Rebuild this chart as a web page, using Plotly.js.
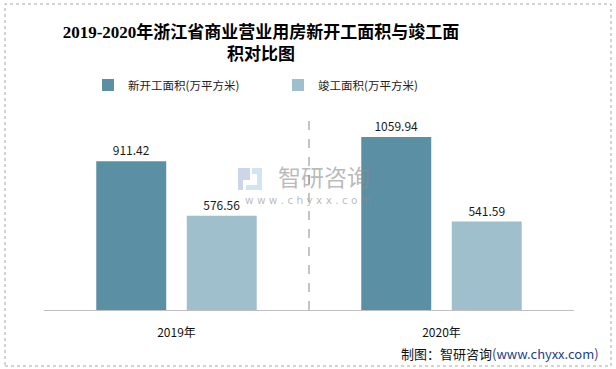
<!DOCTYPE html>
<html><head><meta charset="utf-8">
<script src="https://cdn.plot.ly/plotly-3.0.1.min.js"></script>
<style>html,body{margin:0;padding:0;background:#fff;}#chart{width:616px;height:369px;}</style>
</head><body><div id="chart"></div>
<script>
const categories = ['2019年', '2020年'];
const seriesNames = ['新开工面积(万平方米)', '竣工面积(万平方米)'];
const newStarts = [911.42, 1059.94];
const completed = [576.56, 541.59];
const titleText = '2019-2020年浙江省商业营业用房新开工面积与竣工面<br>积对比图';
const sourceLabel = '制图：智研咨询';
const sourceUrl = '(www.chyxx.com)';

const W = 616, H = 369, L = 44, R = 574, T = 114, B = 310;
const px = x => (x - L) / (R - L);
const py = y => (B - y) / (B - T);
const cjk = '"Noto Sans CJK SC", "Noto Sans", sans-serif';

const traces = [
  {type: 'bar', name: seriesNames[0], x: categories, y: newStarts,
   marker: {color: '#5b8fa3'}, text: newStarts.map(v => v.toFixed(2)),
   textposition: 'outside', cliponaxis: false,
   textfont: {family: cjk, size: 12, color: '#1a1a1a'}, hoverinfo: 'x+y'},
  {type: 'bar', name: seriesNames[1], x: categories, y: completed,
   marker: {color: '#a0bfcc'}, text: completed.map(v => v.toFixed(2)),
   textposition: 'outside', cliponaxis: false,
   textfont: {family: cjk, size: 12, color: '#1a1a1a'}, hoverinfo: 'x+y'}
];

const shapes = [
  {type: 'rect', xref: 'paper', yref: 'paper', x0: px(5), x1: px(611), y0: py(366), y1: py(4),
   line: {color: '#a8a8a8', width: 1, dash: 'dot'}},
  {type: 'line', xref: 'x', yref: 'paper', x0: 0.5, x1: 0.5, y0: 0, y1: py(116),
   line: {color: '#c4c4c4', width: 2, dash: 'dash'}},
  {type: 'path', xref: 'paper', yref: 'paper', layer: 'above',
   path: `M ${px(238)} ${py(168)} L ${px(250)} ${py(168)} L ${px(250)} ${py(180)} L ${px(243)} ${py(180)} L ${px(243)} ${py(190)} L ${px(238)} ${py(190)} Z`,
   fillcolor: 'rgba(160,180,215,0.55)', line: {width: 0}},
  {type: 'path', xref: 'paper', yref: 'paper', layer: 'above',
   path: `M ${px(252)} ${py(168)} L ${px(262)} ${py(168)} L ${px(262)} ${py(190)} L ${px(246)} ${py(190)} L ${px(246)} ${py(185)} L ${px(257)} ${py(185)} L ${px(257)} ${py(174)} L ${px(252)} ${py(174)} Z`,
   fillcolor: 'rgba(170,205,230,0.55)', line: {width: 0}}
];

const annotations = [
  {text: '智研咨询', xref: 'paper', yref: 'paper', x: px(324), y: py(176), xanchor: 'center', yanchor: 'middle',
   showarrow: false, font: {family: cjk, size: 23, color: 'rgba(140,140,140,0.6)'}},
  {text: 'w w w . c h y x x . c o m', xref: 'paper', yref: 'paper', x: px(308), y: py(200), xanchor: 'center', yanchor: 'middle',
   showarrow: false, font: {family: '"DejaVu Sans", sans-serif', size: 10.5, color: 'rgba(140,140,140,0.6)'}},
  {text: sourceLabel + '<span style="color:#23408e">' + sourceUrl + '</span>', xref: 'paper', yref: 'paper',
   x: px(601), y: py(353), xanchor: 'right', yanchor: 'middle', showarrow: false,
   font: {family: cjk, size: 13, color: '#111'}}
];

const layout = {
  width: W, height: H,
  margin: {l: L, r: W - R, t: T, b: H - B, pad: 0},
  paper_bgcolor: '#fff', plot_bgcolor: '#fff',
  title: {text: titleText, x: 261 / W, xref: 'container', xanchor: 'center',
          y: 1 - 38 / H, yref: 'container', yanchor: 'top',
          font: {family: '"Liberation Serif", "Noto Sans CJK SC", serif', size: 17, color: '#000', weight: 'bold'}},
  barmode: 'group', bargap: 0.317, bargroupgap: 0.227,
  showlegend: true,
  legend: {orientation: 'h', x: px(88), xanchor: 'left', y: py(85), yanchor: 'middle',
           font: {family: cjk, size: 11.5, color: '#222'}, entrywidth: 145, itemwidth: 30,
           bgcolor: 'rgba(0,0,0,0)'},
  xaxis: {type: 'category', showline: true, linecolor: '#bfbfbf', linewidth: 1,
          ticks: '', showgrid: false, tickfont: {family: cjk, size: 12, color: '#111'}, ticklabelstandoff: 12},
  yaxis: {range: [0, 1200], visible: false, showgrid: false, zeroline: false},
  shapes: shapes, annotations: annotations
};

Plotly.newPlot('chart', traces, layout, {displayModeBar: false, staticPlot: true});
</script></body></html>
